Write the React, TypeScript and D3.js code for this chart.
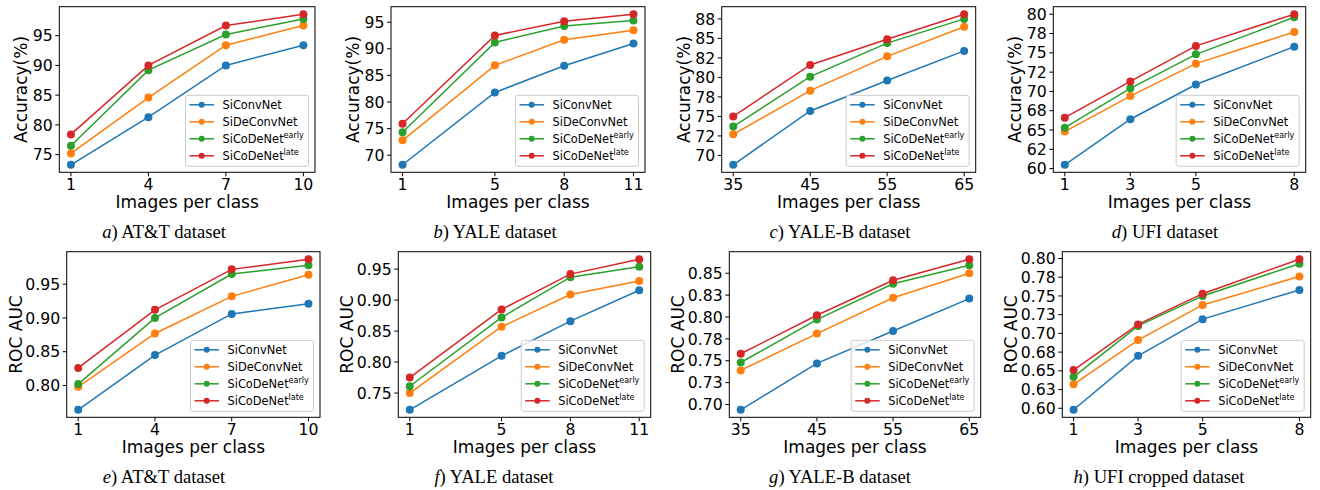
import React from "react";
import * as d3 from "d3";

const seriesNames = ["SiConvNet", "SiDeConvNet", "SiCoDeNet", "SiCoDeNet"];
const seriesSup = ["", "", "early", "late"];
const seriesColors = ["#1f77b4", "#ff7f0e", "#2ca02c", "#d62728"];

// x categories (images per class)
const attX = [1, 4, 7, 10];
const yaleX = [1, 5, 8, 11];
const yaleBX = [35, 45, 55, 65];
const ufiX = [1, 3, 5, 8];

// a) AT&T accuracy
const attAccConv = [73.3, 81.3, 90.0, 93.4];
const attAccDeConv = [75.2, 84.6, 93.4, 96.7];
const attAccEarly = [76.5, 89.2, 95.2, 97.8];
const attAccLate = [78.4, 90.0, 96.7, 98.6];
// b) YALE accuracy
const yaleAccConv = [68.2, 81.8, 86.8, 91.0];
const yaleAccDeConv = [72.8, 86.9, 91.7, 93.5];
const yaleAccEarly = [74.3, 91.2, 94.3, 95.3];
const yaleAccLate = [75.9, 92.5, 95.2, 96.5];
// c) YALE-B accuracy
const yaleBAccConv = [68.8, 75.7, 79.6, 83.4];
const yaleBAccDeConv = [72.7, 78.3, 82.7, 86.5];
const yaleBAccEarly = [73.7, 80.1, 84.4, 87.5];
const yaleBAccLate = [75.0, 81.6, 84.9, 88.1];
// d) UFI accuracy
const ufiAccConv = [60.5, 66.4, 70.9, 75.8];
const ufiAccDeConv = [64.8, 69.4, 73.6, 77.7];
const ufiAccEarly = [65.3, 70.4, 74.8, 79.6];
const ufiAccLate = [66.6, 71.3, 75.9, 80.0];
// e) AT&T ROC AUC
const attRocConv = [0.764, 0.845, 0.906, 0.921];
const attRocDeConv = [0.798, 0.877, 0.932, 0.964];
const attRocEarly = [0.802, 0.9, 0.965, 0.978];
const attRocLate = [0.826, 0.912, 0.972, 0.987];
// f) YALE ROC AUC
const yaleRocConv = [0.723, 0.81, 0.866, 0.916];
const yaleRocDeConv = [0.75, 0.857, 0.909, 0.931];
const yaleRocEarly = [0.761, 0.872, 0.937, 0.954];
const yaleRocLate = [0.775, 0.885, 0.942, 0.966];
// g) YALE-B ROC AUC
const yaleBRocConv = [0.694, 0.747, 0.784, 0.821];
const yaleBRocDeConv = [0.739, 0.781, 0.822, 0.85];
const yaleBRocEarly = [0.748, 0.797, 0.838, 0.859];
const yaleBRocLate = [0.758, 0.802, 0.842, 0.866];
// h) UFI cropped ROC AUC
const ufiRocConv = [0.598, 0.67, 0.719, 0.758];
const ufiRocDeConv = [0.632, 0.691, 0.738, 0.776];
const ufiRocEarly = [0.642, 0.71, 0.75, 0.793];
const ufiRocLate = [0.651, 0.712, 0.753, 0.799];

// y ticks and labels
const ticksA = [75, 80, 85, 90, 95];
const labelsA = ["75", "80", "85", "90", "95"];
const ticksB = [70, 75, 80, 85, 90, 95];
const labelsB = ["70", "75", "80", "85", "90", "95"];
const ticksC = [70, 72.5, 75, 77.5, 80, 82.5, 85, 87.5];
const labelsC = ["70", "72", "75", "78", "80", "82", "85", "88"];
const ticksD = [60, 62.5, 65, 67.5, 70, 72.5, 75, 77.5, 80];
const labelsD = ["60", "62", "65", "68", "70", "72", "75", "78", "80"];
const ticksE = [0.8, 0.85, 0.9, 0.95];
const labelsE = ["0.80", "0.85", "0.90", "0.95"];
const ticksF = [0.75, 0.8, 0.85, 0.9, 0.95];
const labelsF = ["0.75", "0.80", "0.85", "0.90", "0.95"];
const ticksG = [0.7, 0.725, 0.75, 0.775, 0.8, 0.825, 0.85];
const labelsG = ["0.70", "0.73", "0.75", "0.78", "0.80", "0.83", "0.85"];
const ticksH = [0.6, 0.625, 0.65, 0.675, 0.7, 0.725, 0.75, 0.775, 0.8];
const labelsH = ["0.60", "0.63", "0.65", "0.68", "0.70", "0.73", "0.75", "0.78", "0.80"];

const captionLetters = ["a", "b", "c", "d", "e", "f", "g", "h"];
const captionTexts = [
  ") AT&T dataset",
  ") YALE dataset",
  ") YALE-B dataset",
  ") UFI dataset",
  ") AT&T dataset",
  ") YALE dataset",
  ") YALE-B dataset",
  ") UFI cropped dataset",
];
const xTitle = "Images per class";
const accTitle = "Accuracy(%)";
const rocTitle = "ROC AUC";

const FONT = "DejaVu Sans, Verdana, sans-serif";
const TICK_FS = 15.7;
const LABEL_FS = 17;
const LEG_FS = 11.4;

const panelData = [
  { x: attX, s: [attAccConv, attAccDeConv, attAccEarly, attAccLate], t: ticksA, l: labelsA, title: accTitle },
  { x: yaleX, s: [yaleAccConv, yaleAccDeConv, yaleAccEarly, yaleAccLate], t: ticksB, l: labelsB, title: accTitle },
  { x: yaleBX, s: [yaleBAccConv, yaleBAccDeConv, yaleBAccEarly, yaleBAccLate], t: ticksC, l: labelsC, title: accTitle },
  { x: ufiX, s: [ufiAccConv, ufiAccDeConv, ufiAccEarly, ufiAccLate], t: ticksD, l: labelsD, title: accTitle },
  { x: attX, s: [attRocConv, attRocDeConv, attRocEarly, attRocLate], t: ticksE, l: labelsE, title: rocTitle },
  { x: yaleX, s: [yaleRocConv, yaleRocDeConv, yaleRocEarly, yaleRocLate], t: ticksF, l: labelsF, title: rocTitle },
  { x: yaleBX, s: [yaleBRocConv, yaleBRocDeConv, yaleBRocEarly, yaleBRocLate], t: ticksG, l: labelsG, title: rocTitle },
  { x: ufiX, s: [ufiRocConv, ufiRocDeConv, ufiRocEarly, ufiRocLate], t: ticksH, l: labelsH, title: rocTitle },
];

const layouts = [
  { left: 59.3, right: 315, row: 0, cx: 164 },
  { left: 391, right: 645, row: 0, cx: 495 },
  { left: 721.7, right: 975.7, row: 0, cx: 840 },
  { left: 1053.3, right: 1305.7, row: 0, cx: 1165 },
  { left: 66.7, right: 320, row: 1, cx: 164 },
  { left: 398.3, right: 650.7, row: 1, cx: 494 },
  { left: 729.3, right: 980.7, row: 1, cx: 840 },
  { left: 1062.3, right: 1310.7, row: 1, cx: 1159 },
];

let measureCtx: CanvasRenderingContext2D | null = null;
function textWidth(s: string, fs: number) {
  if (!measureCtx) {
    const c = document.createElement("canvas");
    measureCtx = c.getContext("2d");
  }
  if (!measureCtx) return s.length * fs * 0.6;
  measureCtx.font = `${fs}px DejaVu Sans`;
  return measureCtx.measureText(s).width;
}

function pad(ext: [number, number]): [number, number] {
  const r = ext[1] - ext[0];
  return [ext[0] - 0.05 * r, ext[1] + 0.05 * r];
}

function Panel({ idx }: { idx: number }) {
  const d = panelData[idx];
  const L = layouts[idx];
  const top = L.row === 0 ? 6.7 : 251.7;
  const bottom = L.row === 0 ? 172.3 : 417.3;
  const xs = d3.scaleLinear().domain(pad(d3.extent(d.x) as [number, number])).range([L.left, L.right]);
  const allY = d.s.flat();
  const ys = d3.scaleLinear().domain(pad(d3.extent(allY) as [number, number])).range([bottom, top]);
  const line = d3
    .line<number>()
    .x((_, i) => xs(d.x[i]))
    .y((v) => ys(v));
  const maxTickW = d3.max(d.l, (s) => textWidth(s, TICK_FS)) || 0;
  const tickRight = L.left - 6.5;
  const gap = d.title === accTitle ? 5.5 : 3.5;
  const titleX = tickRight - maxTickW - gap;
  const titleY = (top + bottom) / 2;

  // legend
  const legW = 123;
  const legH = 71;
  const legR = L.right - 6.5;
  const legB = bottom - 6;
  const legL = legR - legW;
  const legT = legB - legH;

  return (
    <g>
      {d.s.map((vals, si) => (
        <g key={si}>
          <path d={line(vals) || ""} fill="none" stroke={seriesColors[si]} strokeWidth={1.5} />
          {vals.map((v, i) => (
            <circle key={i} cx={xs(d.x[i])} cy={ys(v)} r={4} fill={seriesColors[si]} />
          ))}
        </g>
      ))}
      <rect x={L.left} y={top} width={L.right - L.left} height={bottom - top} fill="none" stroke="#000" strokeWidth={1} />
      {d.x.map((xv, i) => (
        <g key={i}>
          <line x1={xs(xv)} x2={xs(xv)} y1={bottom} y2={bottom + 4} stroke="#000" strokeWidth={1} />
          <text x={xs(xv)} y={bottom + 18} textAnchor="middle" fontFamily={FONT} fontSize={TICK_FS} fill="#000">
            {xv}
          </text>
        </g>
      ))}
      {d.t.map((tv, i) => (
        <g key={i}>
          <line x1={L.left - 4} x2={L.left} y1={ys(tv)} y2={ys(tv)} stroke="#000" strokeWidth={1} />
          <text x={tickRight} y={ys(tv)} dy="0.36em" textAnchor="end" fontFamily={FONT} fontSize={TICK_FS} fill="#000">
            {d.l[i]}
          </text>
        </g>
      ))}
      <text
        x={(L.left + L.right) / 2}
        y={bottom + 35.5}
        textAnchor="middle"
        fontFamily={FONT}
        fontSize={LABEL_FS}
        fill="#000"
      >
        {xTitle}
      </text>
      <text
        transform={`translate(${titleX},${titleY}) rotate(-90)`}
        textAnchor="middle"
        fontFamily={FONT}
        fontSize={LABEL_FS}
        fill="#000"
      >
        {d.title}
      </text>
      <rect x={legL} y={legT} width={legW} height={legH} rx={2.5} fill="#fff" fillOpacity={0.8} stroke="#cccccc" strokeWidth={1} />
      {seriesNames.map((nm, si) => {
        const cy = legT + 9.5 + si * 17;
        return (
          <g key={si}>
            <line x1={legL + 4} x2={legL + 28.5} y1={cy} y2={cy} stroke={seriesColors[si]} strokeWidth={1.5} />
            <circle cx={legL + 16.2} cy={cy} r={3} fill={seriesColors[si]} />
            <text x={legL + 37} y={cy} dy="0.36em" fontFamily={FONT} fontSize={LEG_FS} fill="#000">
              {nm}
              {seriesSup[si] ? (
                <tspan dy={-4.5} fontSize={8}>
                  {seriesSup[si]}
                </tspan>
              ) : null}
            </text>
          </g>
        );
      })}
      <text
        x={L.cx}
        y={L.row === 0 ? 237.5 : 482.5}
        textAnchor="middle"
        fontFamily="Liberation Serif, Times New Roman, serif"
        fontSize={18.6}
        fill="#000"
      >
        <tspan fontStyle="italic">{captionLetters[idx]}</tspan>
        {captionTexts[idx]}
      </text>
    </g>
  );
}

export default function App() {
  return (
    <svg
      width={1320}
      height={490}
      style={{ position: "absolute", left: 0, top: 0, background: "#fff" }}
      xmlns="http://www.w3.org/2000/svg"
    >
      <rect width={1320} height={490} fill="#fff" />
      {panelData.map((_, i) => (
        <Panel key={i} idx={i} />
      ))}
    </svg>
  );
}
